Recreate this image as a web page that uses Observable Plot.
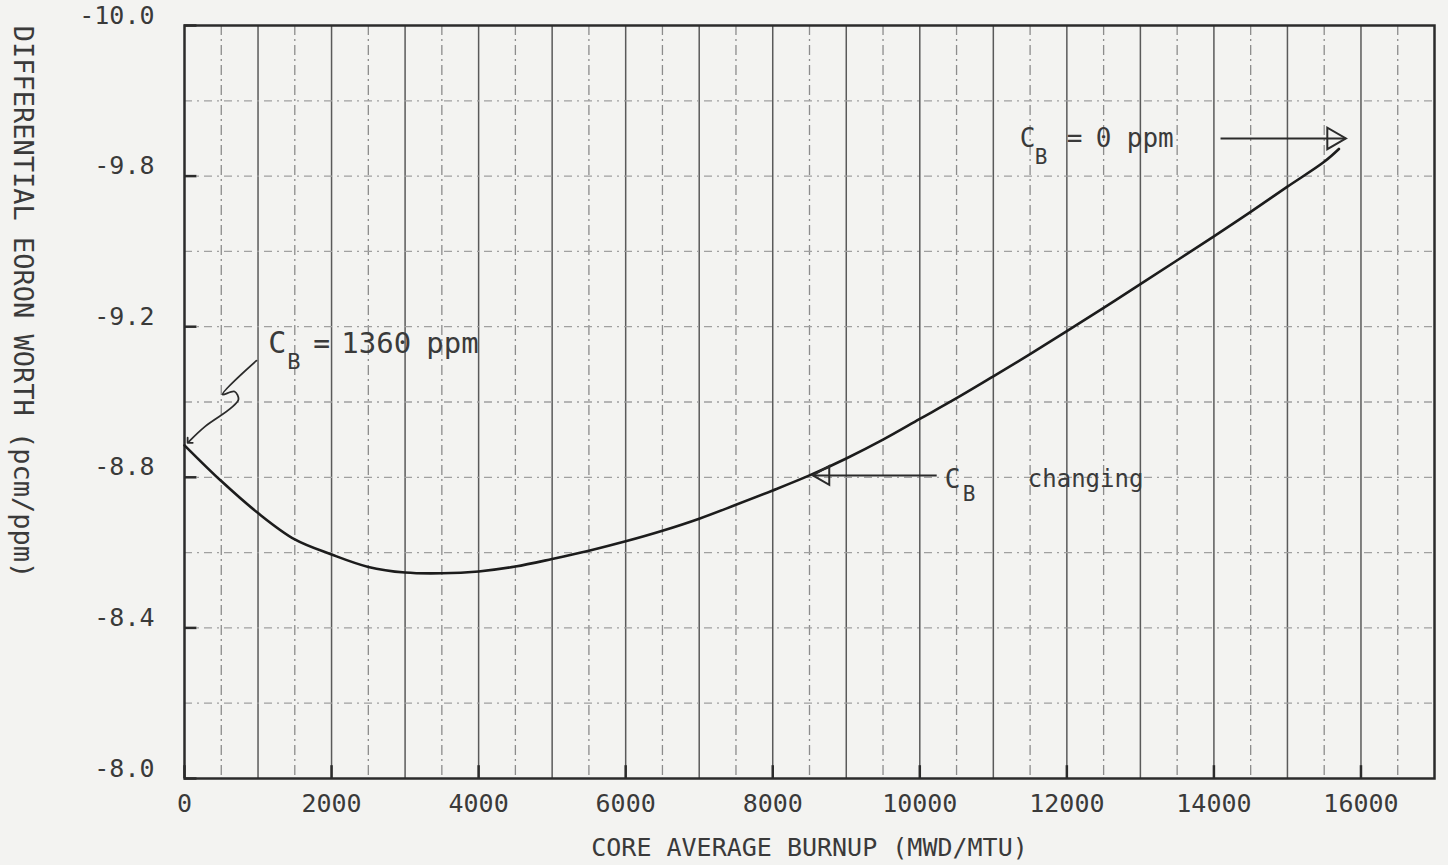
<!DOCTYPE html>
<html>
<head>
<meta charset="utf-8">
<script src="https://cdn.jsdelivr.net/npm/d3@7"></script>
<script src="https://cdn.jsdelivr.net/npm/@observablehq/plot@0.6"></script>
<style>
  html, body { margin: 0; padding: 0; background: #f3f3f1; }
</style>
</head>
<body>
<div id="chart"></div>
<script>
// ---- data ----
const burnup = [0, 500, 1000, 1500, 2000, 2500, 3000, 3500, 4000, 4500, 5000, 5500, 6000, 6500, 7000, 7500, 8000, 8500, 9000, 9500, 10000, 10500, 11000, 11500, 12000, 12500, 13000, 14000, 14500, 15000, 15500, 15700];
const worth  = [-8.885, -8.79, -8.705, -8.635, -8.595, -8.562, -8.547, -8.545, -8.55, -8.563, -8.583, -8.605, -8.63, -8.658, -8.69, -8.727, -8.765, -8.805, -8.85, -8.90, -8.955, -9.01, -9.068, -9.127, -9.188, -9.25, -9.313, -9.44, -9.505, -9.572, -9.638, -9.672];

const xTicks = [0, 2000, 4000, 6000, 8000, 10000, 12000, 14000, 16000];
const xTickLabels = ["0", "2000", "4000", "6000", "8000", "10000", "12000", "14000", "16000"];
const yTicks = [-10, -9.6, -9.2, -8.8, -8.4, -8.0];
const yTickLabels = ["-10.0", "-9.8", "-9.2", "-8.8", "-8.4", "-8.0"];

const gridMajor = [1000, 2000, 3000, 4000, 5000, 6000, 7000, 8000, 9000, 10000, 11000, 12000, 13000, 14000, 15000, 16000];
const gridMinor = [500, 1500, 2500, 3500, 4500, 5500, 6500, 7500, 8500, 9500, 10500, 11500, 12500, 13500, 14500, 15500, 16500];
const gridH = [-9.8, -9.6, -9.4, -9.2, -9.0, -8.8, -8.6, -8.4, -8.2];

const xTitle = "CORE AVERAGE BURNUP (MWD/MTU)";
const yTitle = "DIFFERENTIAL EORON WORTH (pcm/ppm)";

// annotation anchors (data units)
const note1360 = {x: 1140, y: -9.155};
const note0 = {x: 11360, y: -9.70};
const noteChg = {x: 10340, y: -8.794};
const squiggleX = [979, 517, 680, 734, 626, 286, 60];
const squiggleY = [-9.11, -9.02, -9.028, -9.007, -8.983, -8.936, -8.895];
const arrow0 = {x1: 14090, x2: 15790, y: -9.70};
const arrowChg = {x1: 10230, x2: 8545, y: -8.805};

// ---- build ----
const curve = burnup.map((x, i) => ({x, y: worth[i]}));
const squiggle = squiggleX.map((x, i) => ({x, y: squiggleY[i]}));
const xLab = new Map(xTicks.map((d, i) => [d, xTickLabels[i]]));
const yLab = new Map(yTicks.map((d, i) => [d, yTickLabels[i]]));

const ink = "#2b2b2b";
const txt = "#3a3a3a";

function label(anchor, pieces) {
  return pieces.map(p => Plot.text([p.t], {
    x: anchor.x, y: anchor.y, text: d => d,
    dx: p.dx || 0, dy: p.dy || 0, textAnchor: "start",
    fontSize: p.fs, fill: txt
  }));
}

const chart = Plot.plot({
  width: 1448,
  height: 865,
  marginLeft: 184,
  marginRight: 14,
  marginTop: 25,
  marginBottom: 87,
  x: {domain: [0, 17000]},
  y: {domain: [-10, -8], reverse: true},
  style: {
    fontFamily: "'DejaVu Sans Mono', monospace",
    fontSize: "25px",
    background: "#f3f3f1",
    color: txt
  },
  marks: [
    Plot.ruleX(gridMinor, {stroke: "#8c8c8c", strokeWidth: 1.3, strokeDasharray: "10,4,2,4"}),
    Plot.ruleX(gridMajor, {stroke: "#5a5a5a", strokeWidth: 1.5}),
    Plot.ruleY(gridH, {stroke: "#a0a0a0", strokeWidth: 1.3, strokeDasharray: "8,5,2,5"}),
    Plot.ruleX(xTicks, {x: d => d, y1: -8, y2: -8.034, stroke: ink, strokeWidth: 2.5}),
    Plot.ruleY(yTicks, {y: d => d, x1: 0, x2: 170, stroke: ink, strokeWidth: 2.5}),
    Plot.frame({stroke: ink, strokeWidth: 2.5}),
    Plot.axisX({ticks: xTicks, tickFormat: d => xLab.get(d), tickSize: 0, tickPadding: 16, label: null, fill: txt}),
    Plot.axisY({ticks: yTicks, tickFormat: d => yLab.get(d), tickSize: 0, tickPadding: 30, dy: -10, label: null, fill: txt}),
    Plot.text([xTitle], {frameAnchor: "bottom", dy: 69, text: d => d, textAnchor: "middle", lineAnchor: "middle", fontSize: 25, fill: txt}),
    Plot.text([yTitle], {frameAnchor: "left", dx: -162, dy: -100, rotate: 90, text: d => d, textAnchor: "middle", lineAnchor: "middle", fontSize: 27, fill: txt}),
    Plot.line(curve, {x: "x", y: "y", curve: "catmull-rom", stroke: "#1c1c1c", strokeWidth: 2.6}),
    // annotation arrows
    Plot.line(squiggle, {x: "x", y: "y", curve: "catmull-rom", stroke: ink, strokeWidth: 1.8, markerEnd: "arrow"}),
    Plot.link([arrow0], {x1: "x1", x2: "x2", y1: "y", y2: "y", stroke: ink, strokeWidth: 2}),
    Plot.dot([arrow0], {x: "x2", y: "y", symbol: "triangle", r: 8, rotate: 90, dx: -12, fill: "none", stroke: ink, strokeWidth: 2}),
    Plot.link([arrowChg], {x1: "x1", x2: "x2", y1: "y", y2: "y", stroke: ink, strokeWidth: 2}),
    Plot.dot([arrowChg], {x: "x2", y: "y", symbol: "triangle", r: 7, rotate: -90, dx: 11, fill: "none", stroke: ink, strokeWidth: 2}),
    // annotation texts
    ...label(note1360, [
      {t: "C", fs: 30},
      {t: "B", dx: 19, dy: 18, fs: 22},
      {t: "=", dx: 45, fs: 28},
      {t: "1360", dx: 73, fs: 29},
      {t: "ppm", dx: 158, fs: 29}
    ]),
    ...label(note0, [
      {t: "C", fs: 26},
      {t: "B", dx: 15, dy: 19, fs: 21},
      {t: "=", dx: 47, fs: 26},
      {t: "0", dx: 76, fs: 26},
      {t: "ppm", dx: 107, fs: 26}
    ]),
    ...label(noteChg, [
      {t: "C", fs: 26},
      {t: "B", dx: 18, dy: 15, fs: 21},
      {t: "changing", dx: 83, fs: 24}
    ])
  ]
});
document.getElementById("chart").appendChild(chart);
</script>
</body>
</html>
